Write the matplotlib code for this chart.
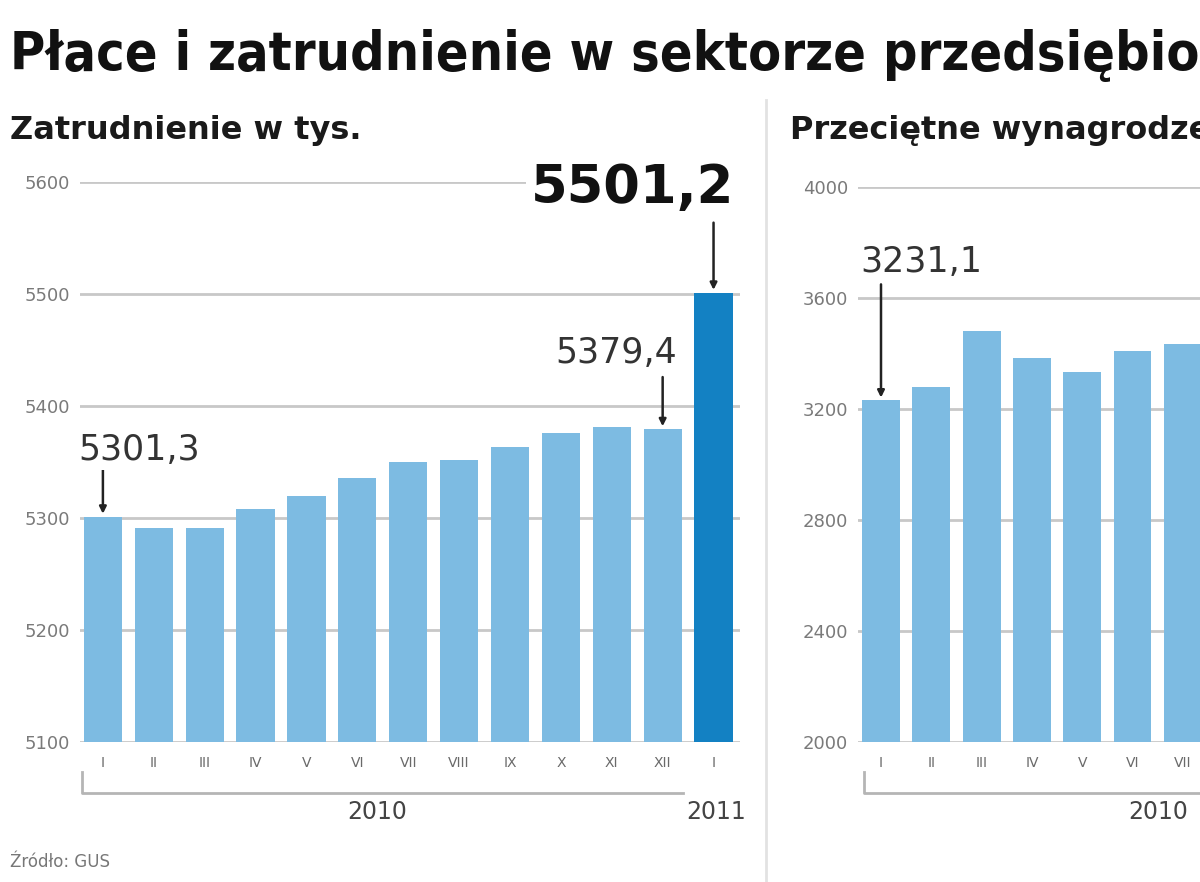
import matplotlib
matplotlib.use("Agg")
import matplotlib.pyplot as plt
from matplotlib import font_manager as fm
from matplotlib.transforms import blended_transform_factory

# ---- data ----
months = ['I', 'II', 'III', 'IV', 'V', 'VI', 'VII', 'VIII', 'IX', 'X', 'XI', 'XII', 'I']
year_labels = ['2010', '2011']
employment = [5301.3, 5291.1, 5291.0, 5308.0, 5319.6, 5335.6, 5349.8,
              5351.6, 5363.0, 5375.6, 5381.0, 5379.4, 5501.2]
emp_ticks = [5100, 5200, 5300, 5400, 5500, 5600]
wages = [3231.1, 3281.0, 3480.0, 3384.0, 3335.0, 3409.0, 3434.0]  # visible part
wage_ticks = [2000, 2400, 2800, 3200, 3600, 4000]

title = "Płace i zatrudnienie w sektorze przedsiębiorstw"
sub_left = "Zatrudnienie w tys."
sub_right = "Przeciętne wynagrodzenie w zł"
source = "Źródło: GUS"

names = {f.name for f in fm.fontManager.ttflist}
cond = 'Liberation Sans Narrow' if 'Liberation Sans Narrow' in names else 'DejaVu Sans'

W, H = 1200, 882
fig = plt.figure(figsize=(W / 100, H / 100), dpi=100)
fig.patch.set_facecolor('white')

def fx(px):
    return px / W

def fy(py):
    return 1 - py / H

LIGHT = '#7dbbe2'
DARK = '#1381c3'
GRID = '#c8c8c8'

# title, sized so that "…przedsiębio" reaches the right edge
tkw = dict(fontweight='bold', family=cond, fontstretch='condensed',
           va='center', ha='left')
t = fig.text(fx(10), fy(55), title, fontsize=50, color='#111111', **tkw)
probe = fig.text(fx(10), fy(55), title[:43], fontsize=50, alpha=0, **tkw)
fig.canvas.draw()
w = probe.get_window_extent().width
probe.remove()
t.set_fontsize(50 * 1190 / w)

fig.text(fx(10), fy(130), sub_left, fontsize=23, fontweight='bold',
         color='#1a1a1a', va='center', ha='left')
fig.text(fx(790), fy(130), sub_right, fontsize=23, fontweight='bold',
         color='#1a1a1a', va='center', ha='left')
fig.text(fx(10), fy(862), source, fontsize=12, color='#777777',
         va='center', ha='left')

# separator
fig.add_artist(plt.Line2D([fx(766), fx(766)], [fy(100), fy(882)],
                          color='#e2e2e2', lw=2))


def make_axes(left_px, top_px, bottom_px, width_px):
    ax = fig.add_axes([fx(left_px), fy(bottom_px), width_px / W,
                       (bottom_px - top_px) / H])
    ax.set_facecolor('none')
    for s in ax.spines.values():
        s.set_visible(False)
    ax.tick_params(length=0)
    ax.set_axisbelow(True)
    ax.yaxis.grid(True, color=GRID, lw=2)
    ax.xaxis.grid(False)
    return ax


# ---- left panel ----
ax1 = make_axes(80, 182, 742, 660)
ax1.set_xlim(-0.45, 12.52)
cols = [LIGHT] * 12 + [DARK]
ax1.bar(range(len(employment)), employment, width=0.75, color=cols, zorder=2)
ax1.set_ylim(emp_ticks[0], emp_ticks[-1])
ax1.set_yticks(emp_ticks)
ax1.set_yticklabels([str(v) for v in emp_ticks], fontsize=13, color='#7a7a7a')
ax1.tick_params(axis='y', pad=7)
ax1.set_xticks(range(len(months)))
ax1.set_xticklabels(months, fontsize=10, color='#6a6a6a')
ax1.tick_params(axis='x', pad=10)

def fmt(v):
    return f"{v:.1f}".replace('.', ',')

arrow = dict(arrowstyle='-|>', color='#222222', lw=1.8, mutation_scale=10,
             shrinkA=0, shrinkB=2)

def callout(ax, i, v, tail_px, txt_off, ha, size, bold=False, color='#333333'):
    ax.annotate('', xy=(i, v), xytext=(0, tail_px), textcoords='offset pixels',
                arrowprops=arrow, annotation_clip=False)
    ax.annotate(fmt(v), xy=(i, v), xytext=txt_off, textcoords='offset pixels',
                ha=ha, va='center', fontsize=size,
                fontweight='bold' if bold else 'normal', color=color,
                annotation_clip=False,
                bbox=dict(boxstyle='square,pad=0.1', fc='white', ec='none'))

callout(ax1, 0, employment[0], 48, (-25, 67), 'left', 25)
callout(ax1, 11, employment[11], 52, (14, 76), 'right', 25)
callout(ax1, 12, employment[12], 70, (21, 105), 'right', 38, bold=True,
        color='#111111')

tr1 = blended_transform_factory(ax1.transData, ax1.transAxes)
yb = -51 / 560
ax1.plot([-0.41, -0.41, 11.4], [-30 / 560, yb, yb], color='#b5b5b5', lw=2,
         transform=tr1, clip_on=False)
ax1.text(5.4, -70 / 560, year_labels[0], transform=tr1, ha='center',
         va='center', fontsize=17, color='#444444')
ax1.text(12.05, -70 / 560, year_labels[1], transform=tr1, ha='center',
         va='center', fontsize=17, color='#444444')

# ---- right panel (cropped at figure edge) ----
ax2 = make_axes(858, 187, 742, 652)
ax2.set_xlim(-0.457, 12.5)
ax2.bar(range(len(wages)), wages, width=0.75, color=LIGHT, zorder=2)
ax2.set_ylim(wage_ticks[0], wage_ticks[-1])
ax2.set_yticks(wage_ticks)
ax2.set_yticklabels([str(v) for v in wage_ticks], fontsize=13, color='#7a7a7a')
ax2.tick_params(axis='y', pad=7)
ax2.set_xticks(range(len(months)))
ax2.set_xticklabels(months, fontsize=10, color='#6a6a6a')
ax2.tick_params(axis='x', pad=10)

callout(ax2, 0, wages[0], 116, (-21, 138), 'left', 25)

tr2 = blended_transform_factory(ax2.transData, ax2.transAxes)
yb2 = -51 / 555
ax2.plot([-0.33, -0.33, 11.4], [-30 / 555, yb2, yb2], color='#b5b5b5', lw=2,
         transform=tr2, clip_on=False)
ax2.text(5.5, -70 / 555, year_labels[0], transform=tr2, ha='center',
         va='center', fontsize=17, color='#444444')

fig.savefig('out.png', dpi=100, facecolor='white')
